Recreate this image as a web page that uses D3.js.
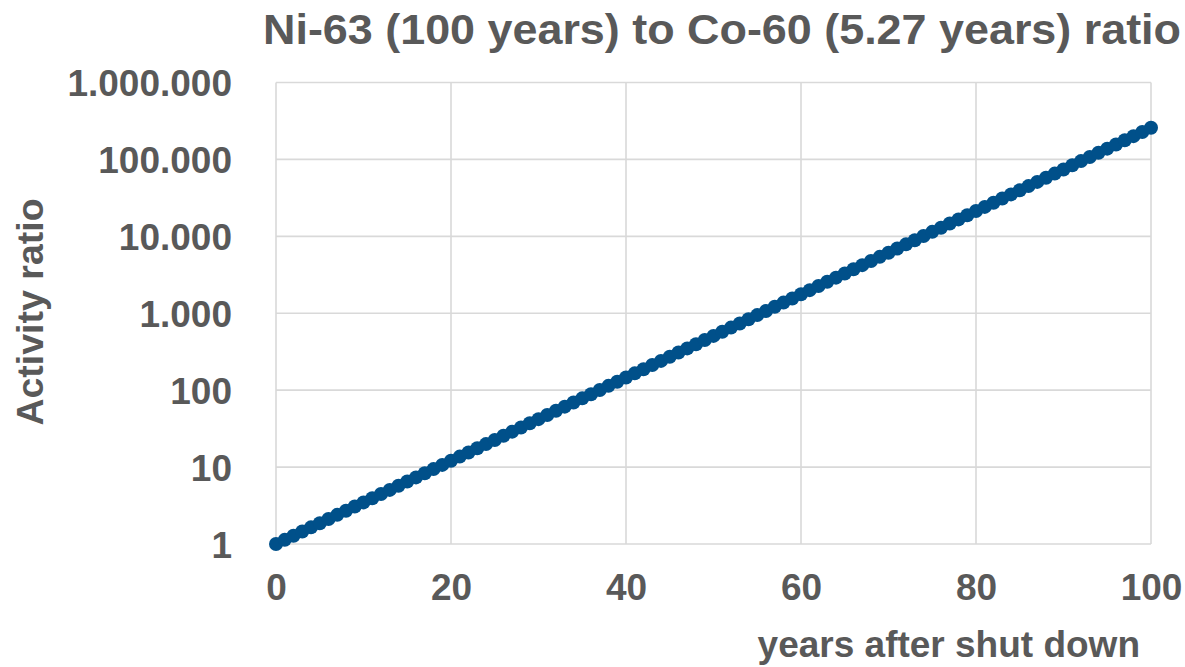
<!DOCTYPE html>
<html>
<head>
<meta charset="utf-8">
<script src="https://cdn.jsdelivr.net/npm/d3@7"></script>
<style>
  html, body { margin: 0; padding: 0; background: #ffffff; }
  svg { display: block; font-family: "Liberation Sans", Arial, sans-serif; font-weight: bold; }
</style>
</head>
<body>
<svg id="chart" width="1185" height="667"></svg>
<script>
// Years after shut down (one marker per year)
const years = d3.range(0, 101);

// Ni-63 / Co-60 activity ratio for each year
const ratio = [
  1, 1.133, 1.283, 1.453, 1.646, 1.864, 2.112, 2.392, 2.709, 3.069,
  3.476, 3.937, 4.460, 5.051, 5.721, 6.481, 7.341, 8.315, 9.418, 10.67,
  12.08, 13.69, 15.50, 17.56, 19.89, 22.53, 25.52, 28.90, 32.73, 37.08,
  42.00, 47.57, 53.88, 61.03, 69.13, 78.30, 88.69, 100.5, 113.8, 128.9,
  146.0, 165.4, 187.3, 212.1, 240.3, 272.2, 308.3, 349.2, 395.5, 448.0,
  507.4, 574.8, 651.0, 737.4, 835.2, 946.1, 1072, 1214, 1375, 1557,
  1764, 1998, 2263, 2563, 2903, 3288, 3725, 4219, 4779, 5413,
  6131, 6945, 7866, 8909, 10091, 11430, 12947, 14665, 16610, 18815,
  21311, 24139, 27342, 30969, 35078, 39732, 45005, 50976, 57738, 65399,
  74076, 83906, 95040, 107647, 121929, 138107, 156434, 177190, 200694, 227325,
  257485
];

// Axis ticks
const xTicks = [0, 20, 40, 60, 80, 100];
const yTicks = [1, 10, 100, 1000, 10000, 100000, 1000000];

const titleText = "Ni-63 (100 years) to Co-60 (5.27 years) ratio";
const xTitle = "years after shut down";
const yTitle = "Activity ratio";

const textColor = "#595959";
const gridColor = "#d9d9d9";
const markerColor = "#00508a";

const plot = { left: 276, right: 1151, top: 82.5, bottom: 544 };

const svg = d3.select("#chart");

const x = d3.scaleLinear().domain([0, 100]).range([plot.left, plot.right]);
const y = d3.scaleLog().domain([1, 1000000]).range([plot.bottom, plot.top]);

// Dotted thousands separator for the value labels
const locale = d3.formatLocale({ decimal: ",", thousands: ".", grouping: [3], currency: ["", ""] });
const fmt = locale.format(",d");

// Gridlines
svg.append("g")
  .selectAll("line.h")
  .data(yTicks)
  .join("line")
  .attr("x1", plot.left).attr("x2", plot.right)
  .attr("y1", d => y(d)).attr("y2", d => y(d))
  .attr("stroke", gridColor).attr("stroke-width", 1.6);

svg.append("g")
  .selectAll("line.v")
  .data(xTicks)
  .join("line")
  .attr("x1", d => x(d)).attr("x2", d => x(d))
  .attr("y1", plot.top).attr("y2", plot.bottom)
  .attr("stroke", gridColor).attr("stroke-width", 1.6);

// Y axis labels
const yAxis = svg.append("g")
  .attr("transform", `translate(${plot.left},0)`)
  .call(d3.axisLeft(y).tickValues(yTicks).tickFormat(fmt).tickSize(0).tickPadding(44));
yAxis.select(".domain").remove();
yAxis.selectAll("text")
  .attr("fill", textColor)
  .attr("font-size", 37)
  .attr("font-family", "Liberation Sans, Arial, sans-serif")
  .attr("font-weight", "bold")
  .attr("dy", "0.36em");

// X axis labels
const xAxis = svg.append("g")
  .attr("transform", `translate(0,${plot.bottom})`)
  .call(d3.axisBottom(x).tickValues(xTicks).tickFormat(d3.format("d")).tickSize(0).tickPadding(30));
xAxis.select(".domain").remove();
xAxis.selectAll("text")
  .attr("fill", textColor)
  .attr("font-size", 37)
  .attr("font-family", "Liberation Sans, Arial, sans-serif")
  .attr("font-weight", "bold");

// Markers
svg.append("g")
  .selectAll("circle")
  .data(years)
  .join("circle")
  .attr("cx", (d) => x(d))
  .attr("cy", (d, i) => y(ratio[i]))
  .attr("r", 7)
  .attr("fill", markerColor);

// Chart title
svg.append("text")
  .attr("x", 263).attr("y", 44)
  .attr("textLength", 918)
  .attr("lengthAdjust", "spacingAndGlyphs")
  .attr("font-size", 43)
  .attr("fill", textColor)
  .text(titleText);

// Axis titles
svg.append("text")
  .attr("x", 1140).attr("y", 657)
  .attr("text-anchor", "end")
  .attr("font-size", 37)
  .attr("fill", textColor)
  .text(xTitle);

svg.append("text")
  .attr("transform", "translate(43,312) rotate(-90)")
  .attr("text-anchor", "middle")
  .attr("font-size", 37.5)
  .attr("fill", textColor)
  .text(yTitle);
</script>
</body>
</html>
